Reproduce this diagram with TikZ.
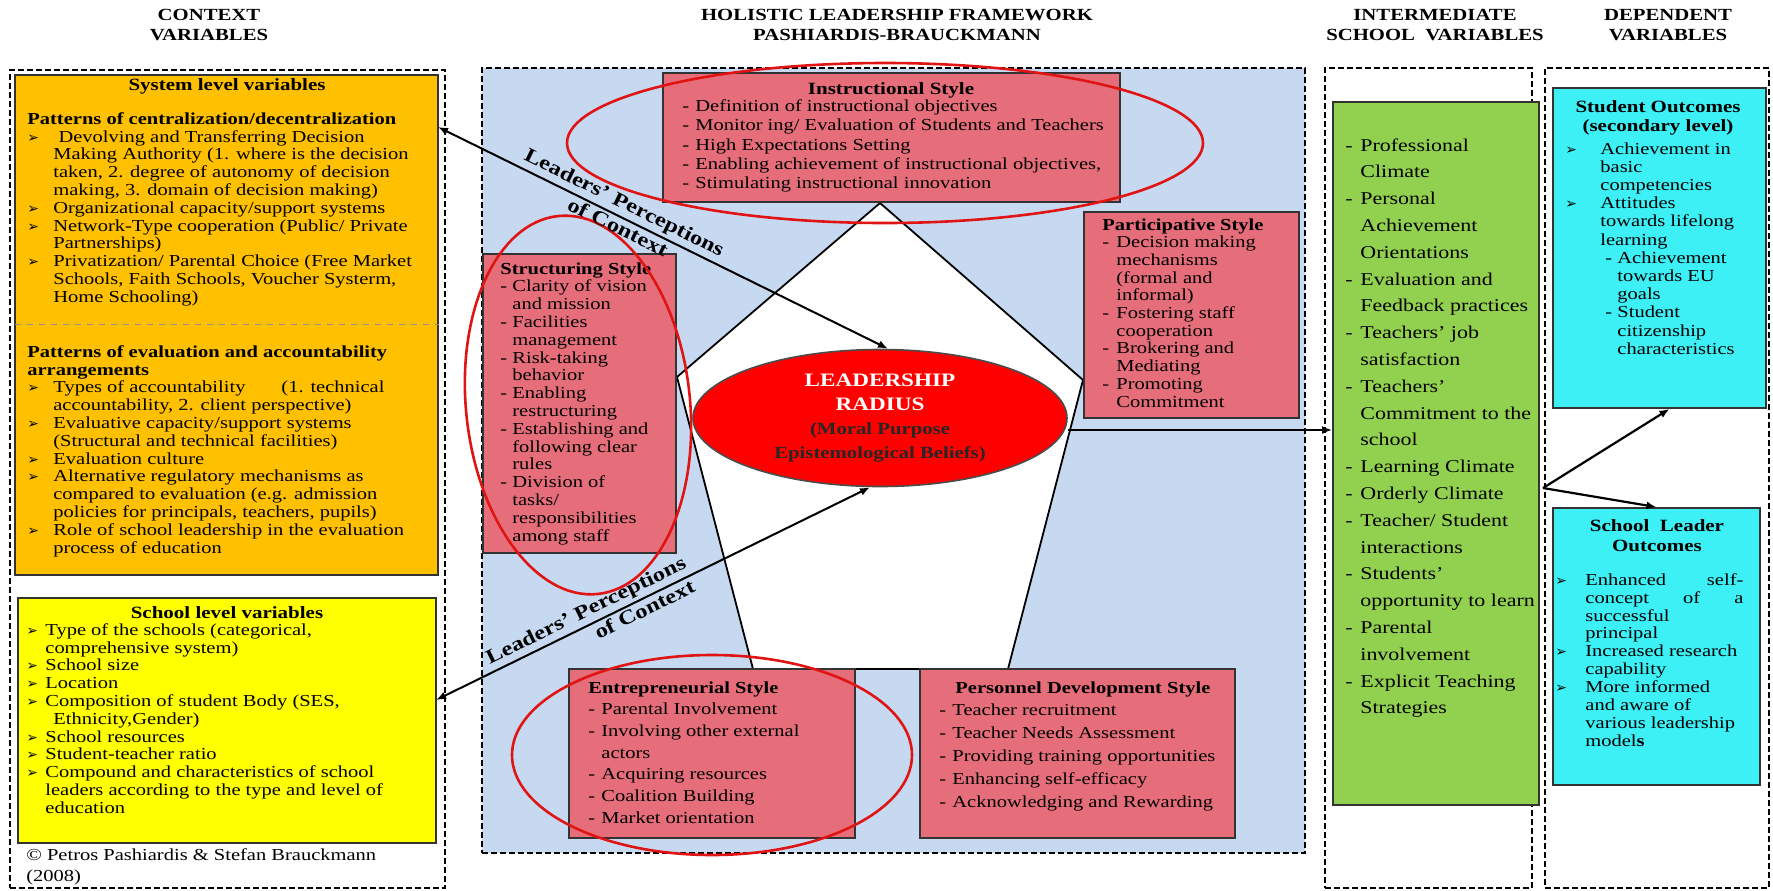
\documentclass[tikz,border=0pt]{standalone}
\usepackage{fontspec}
\setmainfont{Liberation Serif}[FakeStretch=1.22]
\newfontfamily\symfont{DejaVu Sans}
\usetikzlibrary{arrows.meta,fit,shapes.geometric}

\definecolor{ctxorange}{RGB}{255,192,0}
\definecolor{ctxyellow}{RGB}{255,255,0}
\definecolor{frameblue}{RGB}{198,217,241}
\definecolor{stylered}{RGB}{230,110,122}
\definecolor{ringred}{RGB}{225,20,20}
\definecolor{radiusred}{RGB}{255,0,0}
\definecolor{midgreen}{RGB}{146,208,80}
\definecolor{outcyan}{RGB}{60,240,245}

\newcommand\fs[2]{\fontsize{#1}{#2}\selectfont}
\newcommand\bul{{\symfont\fontsize{7}{7}\selectfont ➢}}
\newcommand\bitem[1]{\makebox[#1][l]{\bul}}
\newcommand\ditem[1]{\makebox[#1][l]{-}}
\newcommand\cont[1]{\hspace*{#1}}

\begin{document}
\begin{tikzpicture}[x=0.5pt,y=-0.5pt,
    frame/.style={draw, line width=1pt, dash pattern=on 3pt off 1.5pt, inner sep=0pt},
    box/.style={draw=black!80, line width=0.9pt, inner sep=0pt},
    ring/.style={ellipse, draw=ringred, line width=1.3pt, inner sep=0pt},
    txt/.style={anchor=north west, inner sep=0pt, align=left},
    head/.style={align=center, inner sep=0pt, font=\bfseries\fs{8.5}{10}},
    title/.style={align=center, inner sep=0pt, font=\bfseries\fs{8.6}{9.5}},
    lbl/.style={inner sep=0pt, font=\bfseries\fs{10}{10}},
    link/.style={line width=1pt, {Latex[length=5pt,width=4pt]}-{Latex[length=5pt,width=4pt]}},
    flow/.style={line width=1.1pt, -{Latex[length=5pt,width=4pt]}}]

  \useasboundingbox (0,0) rectangle (1773,890);

  \node[head] (hctx)  at (209,25)  {CONTEXT\\VARIABLES};
  \node[head] (hhol)  at (897,25)  {HOLISTIC LEADERSHIP FRAMEWORK\\PASHIARDIS-BRAUCKMANN};
  \node[head] (hmid)  at (1435,25) {INTERMEDIATE\\SCHOOL\ \ VARIABLES};
  \node[head] (hdep)  at (1668,25) {DEPENDENT\\VARIABLES};

  \node[frame, fit={(10,70)(445,888)}] (ctxframe) {};
  \node[frame, fill=frameblue, fit={(482,68)(1305,853)}] (holistic) {};
  \node[frame, fit={(1325,68)(1532,888)}] (midframe) {};
  \node[frame, fit={(1545,68)(1769,888)}] (depframe) {};

  \draw[line width=0.9pt, fill=white] (880,203) -- (1083,380) -- (1008,669) -- (753,669) -- (677,377) -- cycle;

  \begin{scope}[every node/.style={box}]
    \node[fill=ctxorange, fit={(15,75)(438,575)}]    (system)  {};
    \node[fill=ctxyellow, fit={(18,598)(436,843)}]   (school)  {};
    \node[fill=stylered, fit={(663,73)(1120,202)}]   (instr)   {};
    \node[fill=stylered, fit={(483,254)(676,553)}]   (struct)  {};
    \node[fill=stylered, fit={(1084,212)(1299,418)}] (partic)  {};
    \node[fill=stylered, fit={(569,669)(855,838)}]   (entre)   {};
    \node[fill=stylered, fit={(920,669)(1235,838)}]  (person)  {};
    \node[fill=midgreen, fit={(1333,102)(1539,805)}] (green)   {};
    \node[fill=outcyan, fit={(1553,88)(1766,408)}]   (stud)    {};
    \node[fill=outcyan, fit={(1553,508)(1760,785)}]  (lead)    {};
  \end{scope}

  \coordinate (sepL) at (15,324);
  \draw[dashed, black!45, line width=0.5pt] (sepL) -- (sepL -| system.east);

  \node[title] (systitle) at (227,86) {System level variables};
  \node[txt, font=\fs{8.4}{8.9}] (systext) at (27,112) {%
    \textbf{Patterns of centralization/decentralization}\\
    \bitem{13pt}\ Devolving and Transferring Decision\\
    \cont{13pt}Making Authority (1. where is the decision\\
    \cont{13pt}taken, 2. degree of autonomy of decision\\
    \cont{13pt}making, 3. domain of decision making)\\
    \bitem{13pt}Organizational capacity/support systems\\
    \bitem{13pt}Network-Type cooperation (Public/ Private\\
    \cont{13pt}Partnerships)\\
    \bitem{13pt}Privatization/ Parental Choice (Free Market\\
    \cont{13pt}Schools, Faith Schools, Voucher Systerm,\\
    \cont{13pt}Home Schooling)};
  \node[txt, font=\fs{8.4}{8.9}] (evaltext) at (27,345) {%
    \textbf{Patterns of evaluation and accountability}\\
    \textbf{arrangements}\\
    \bitem{13pt}Types of accountability\hspace{18pt}(1. technical\\
    \cont{13pt}accountability, 2. client perspective)\\
    \bitem{13pt}Evaluative capacity/support systems\\
    \cont{13pt}(Structural and technical facilities)\\
    \bitem{13pt}Evaluation culture\\
    \bitem{13pt}Alternative regulatory mechanisms as\\
    \cont{13pt}compared to evaluation (e.g. admission\\
    \cont{13pt}policies for principals, teachers, pupils)\\
    \bitem{13pt}Role of school leadership in the evaluation\\
    \cont{13pt}process of education};

  \node[title] (schtitle) at (227,613) {School level variables};
  \node[txt, font=\fs{8.4}{8.9}] (schtext) at (26,623) {%
    \bitem{9.5pt}Type of the schools (categorical,\\
    \cont{9.5pt}comprehensive system)\\
    \bitem{9.5pt}School size\\
    \bitem{9.5pt}Location\\
    \bitem{9.5pt}Composition of student Body (SES,\\
    \cont{13.5pt}Ethnicity,Gender)\\
    \bitem{9.5pt}School resources\\
    \bitem{9.5pt}Student-teacher ratio\\
    \bitem{9.5pt}Compound and characteristics of school\\
    \cont{9.5pt}leaders according to the type and level of\\
    \cont{9.5pt}education};
  \node[txt, font=\fs{8.4}{10.5}] (copy) at (26,848) {© Petros Pashiardis \& Stefan Brauckmann\\(2008)};

  \node[title] (instrtitle) at (891,90) {Instructional Style};
  \node[txt, font=\fs{8.4}{9.7}] (instrtext) at (682,99) {%
    \ditem{6.5pt}Definition of instructional objectives\\
    \ditem{6.5pt}Monitor ing/ Evaluation of Students and Teachers\\
    \ditem{6.5pt}High Expectations Setting\\
    \ditem{6.5pt}Enabling achievement of instructional objectives,\\
    \ditem{6.5pt}Stimulating instructional innovation};

  \node[txt, font=\fs{8.4}{8.9}] (structtext) at (500,262) {%
    \textbf{Structuring Style}\\
    \ditem{6pt}Clarity of vision\\
    \cont{6pt}and mission\\
    \ditem{6pt}Facilities\\
    \cont{6pt}management\\
    \ditem{6pt}Risk-taking\\
    \cont{6pt}behavior\\
    \ditem{6pt}Enabling\\
    \cont{6pt}restructuring\\
    \ditem{6pt}Establishing and\\
    \cont{6pt}following clear\\
    \cont{6pt}rules\\
    \ditem{6pt}Division of\\
    \cont{6pt}tasks/\\
    \cont{6pt}responsibilities\\
    \cont{6pt}among staff};

  \node[txt, font=\fs{8.4}{8.85}] (partictext) at (1102,218) {%
    \textbf{Participative Style}\\
    \ditem{7pt}Decision making\\
    \cont{7pt}mechanisms\\
    \cont{7pt}(formal and\\
    \cont{7pt}informal)\\
    \ditem{7pt}Fostering staff\\
    \cont{7pt}cooperation\\
    \ditem{7pt}Brokering and\\
    \cont{7pt}Mediating\\
    \ditem{7pt}Promoting\\
    \cont{7pt}Commitment};

  \node[txt, font=\fs{8.4}{10.85}] (entretext) at (588,681) {%
    \textbf{Entrepreneurial Style}\\
    \ditem{6.5pt}Parental Involvement\\
    \ditem{6.5pt}Involving other external\\
    \cont{6.5pt}actors\\
    \ditem{6.5pt}Acquiring resources\\
    \ditem{6.5pt}Coalition Building\\
    \ditem{6.5pt}Market orientation};

  \node[txt, font=\fs{8.4}{11.4}] (persontext) at (939,681) {%
    \cont{8pt}\textbf{Personnel Development Style}\\
    \ditem{6.5pt}Teacher recruitment\\
    \ditem{6.5pt}Teacher Needs Assessment\\
    \ditem{6.5pt}Providing training opportunities\\
    \ditem{6.5pt}Enhancing self-efficacy\\
    \ditem{6.5pt}Acknowledging and Rewarding};

  \node[txt, font=\fs{9}{13.4}] (greentext) at (1345,138) {%
    \ditem{7.5pt}Professional\\
    \cont{7.5pt}Climate\\
    \ditem{7.5pt}Personal\\
    \cont{7.5pt}Achievement\\
    \cont{7.5pt}Orientations\\
    \ditem{7.5pt}Evaluation and\\
    \cont{7.5pt}Feedback practices\\
    \ditem{7.5pt}Teachers’ job\\
    \cont{7.5pt}satisfaction\\
    \ditem{7.5pt}Teachers’\\
    \cont{7.5pt}Commitment to the\\
    \cont{7.5pt}school\\
    \ditem{7.5pt}Learning Climate\\
    \ditem{7.5pt}Orderly Climate\\
    \ditem{7.5pt}Teacher/ Student\\
    \cont{7.5pt}interactions\\
    \ditem{7.5pt}Students’\\
    \cont{7.5pt}opportunity to learn\\
    \ditem{7.5pt}Parental\\
    \cont{7.5pt}involvement\\
    \ditem{7.5pt}Explicit Teaching\\
    \cont{7.5pt}Strategies};

  \node[title] (studtitle) at (1658,117.5) {Student Outcomes\\(secondary level)};
  \node[txt, font=\fs{8.4}{9.1}] (studtext) at (1565,142) {%
    \bitem{17.5pt}Achievement in\\
    \cont{17.5pt}basic\\
    \cont{17.5pt}competencies\\
    \bitem{17.5pt}Attitudes\\
    \cont{17.5pt}towards lifelong\\
    \cont{17.5pt}learning\\
    \cont{20pt}\ditem{6pt}Achievement\\
    \cont{26pt}towards EU\\
    \cont{26pt}goals\\
    \cont{20pt}\ditem{6pt}Student\\
    \cont{26pt}citizenship\\
    \cont{26pt}characteristics};

  \node[title, font=\bfseries\fs{8.6}{10}] (leadtitle) at (1657,536) {School\ \ Leader\\Outcomes};
  \node[txt, font=\fs{8.4}{8.95}] (leadtext) at (1555,573) {%
    \bitem{15pt}\hbox to 79pt{Enhanced\hfill self-}\\
    \cont{15pt}\hbox to 79pt{concept\hfill of\hfill a}\\
    \cont{15pt}successful\\
    \cont{15pt}principal\\
    \bitem{15pt}Increased research\\
    \cont{15pt}capability\\
    \bitem{15pt}More informed\\
    \cont{15pt}and aware of\\
    \cont{15pt}various leadership\\
    \cont{15pt}model\textbf{s}};

  \node[ellipse, draw=black!70, fill=radiusred, line width=0.8pt, inner sep=0pt,
        minimum width=187pt, minimum height=68.5pt, align=center, font=\bfseries]
        (radius) at (880,418) {%
    \textcolor{white}{\fs{9.5}{10}LEADERSHIP}\\
    \textcolor{white}{\fs{9.5}{10}RADIUS}\\
    \textcolor{black!85}{\fs{8.5}{10}(Moral Purpose}\\
    \textcolor{black!85}{\fs{8.5}{10}Epistemological Beliefs)}};

  \node[ring, minimum width=318pt, minimum height=80pt] (instrring) at (885,143) {};
  \node[ring, minimum width=112pt, minimum height=190pt, rotate=6] (structring) at (578,405) {};
  \node[ring, minimum width=200pt, minimum height=100pt] (entrering) at (712,755) {};

  \coordinate (ctxA) at (438,127);
  \coordinate (ctxB) at (436,700);
  \coordinate (rOut) at ([yshift=-6pt]radius.east);
  \coordinate (split) at (1543,488);

  \draw[link] (ctxA) -- ([xshift=4pt]radius.north)
    node[pos=0.40, sloped, above=1.5pt, lbl] {Leaders’ Perceptions}
    node[pos=0.41, sloped, below=1pt, lbl] {of Context};
  \draw[link] (ctxB) -- ([xshift=-5pt]radius.south)
    node[pos=0.36, sloped, above=1.5pt, lbl] {Leaders’ Perceptions}
    node[pos=0.47, sloped, below=1pt, lbl] {of Context};
  \draw[flow] (rOut) -- (rOut -| green.west);
  \draw[flow] (split) -- ([xshift=5pt]stud.south);
  \draw[flow] (split) -- (lead.north);

\end{tikzpicture}
\end{document}
